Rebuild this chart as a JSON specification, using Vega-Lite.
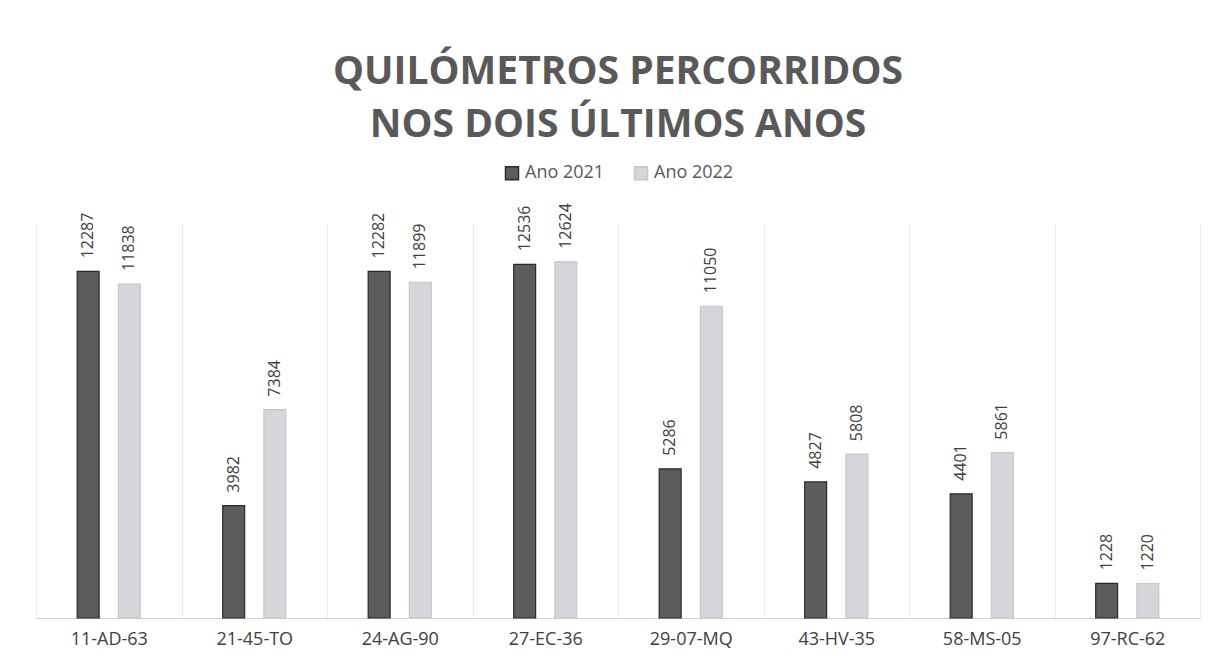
{
  "$schema": "https://vega.github.io/schema/vega-lite/v6.json",
  "width": 1164,
  "height": 395,
  "autosize": "none",
  "padding": {"left": 36, "top": 223, "right": 18, "bottom": 48},
  "background": "white",
  "view": {"stroke": null},
  "title": {
    "text": ["QUILÓMETROS PERCORRIDOS", "NOS DOIS ÚLTIMOS ANOS"],
    "font": "Open Sans",
    "fontSize": 39,
    "fontWeight": "bold",
    "color": "#595959",
    "lineHeight": 53,
    "anchor": "middle",
    "frame": "group",
    "offset": 19
  },
  "data": {
    "values": [
      {"plate": "11-AD-63", "year": "Ano 2021", "km": 12287},
      {"plate": "11-AD-63", "year": "Ano 2022", "km": 11838},
      {"plate": "21-45-TO", "year": "Ano 2021", "km": 3982},
      {"plate": "21-45-TO", "year": "Ano 2022", "km": 7384},
      {"plate": "24-AG-90", "year": "Ano 2021", "km": 12282},
      {"plate": "24-AG-90", "year": "Ano 2022", "km": 11899},
      {"plate": "27-EC-36", "year": "Ano 2021", "km": 12536},
      {"plate": "27-EC-36", "year": "Ano 2022", "km": 12624},
      {"plate": "29-07-MQ", "year": "Ano 2021", "km": 5286},
      {"plate": "29-07-MQ", "year": "Ano 2022", "km": 11050},
      {"plate": "43-HV-35", "year": "Ano 2021", "km": 4827},
      {"plate": "43-HV-35", "year": "Ano 2022", "km": 5808},
      {"plate": "58-MS-05", "year": "Ano 2021", "km": 4401},
      {"plate": "58-MS-05", "year": "Ano 2022", "km": 5861},
      {"plate": "97-RC-62", "year": "Ano 2021", "km": 1228},
      {"plate": "97-RC-62", "year": "Ano 2022", "km": 1220}
    ]
  },
  "encoding": {
    "x": {
      "field": "plate",
      "type": "nominal",
      "sort": null,
      "scale": {"paddingInner": 0, "paddingOuter": 0},
      "axis": {
        "title": null,
        "labelAngle": 0,
        "labelFont": "Open Sans",
        "labelFontSize": 18,
        "labelColor": "#404040",
        "labelPadding": 12,
        "domainColor": "#cfcfcf",
        "domainWidth": 1,
        "ticks": false,
        "grid": true,
        "gridColor": "#ebebeb",
        "tickBand": "extent"
      }
    },
    "xOffset": {
      "field": "year",
      "type": "nominal",
      "scale": {"paddingInner": 0.467, "paddingOuter": 1.17}
    },
    "y": {
      "field": "km",
      "type": "quantitative",
      "scale": {"domain": [0, 14000], "nice": false},
      "axis": null
    }
  },
  "layer": [
    {
      "mark": {"type": "bar", "strokeWidth": 1.2},
      "encoding": {
        "color": {
          "field": "year",
          "type": "nominal",
          "scale": {"range": ["#5c5c5c", "#d4d6da"]},
          "legend": {
            "title": null,
            "orient": "none",
            "direction": "horizontal",
            "legendX": 467,
            "legendY": -59,
            "symbolType": "square",
            "symbolSize": 169,
            "labelFont": "Open Sans",
            "labelFontSize": 18,
            "labelColor": "#595959",
            "columnPadding": 26,
            "labelOffset": 4
          }
        },
        "stroke": {
          "field": "year",
          "type": "nominal",
          "scale": {"range": ["#2b2b2b", "#c6c8cc"]},
          "legend": null
        }
      }
    },
    {
      "mark": {
        "type": "text",
        "angle": -90,
        "align": "left",
        "baseline": "middle",
        "dx": 13,
        "font": "Open Sans",
        "fontSize": 16,
        "color": "#404040"
      },
      "encoding": {
        "text": {"field": "km", "type": "quantitative", "format": "d"}
      }
    }
  ]
}
